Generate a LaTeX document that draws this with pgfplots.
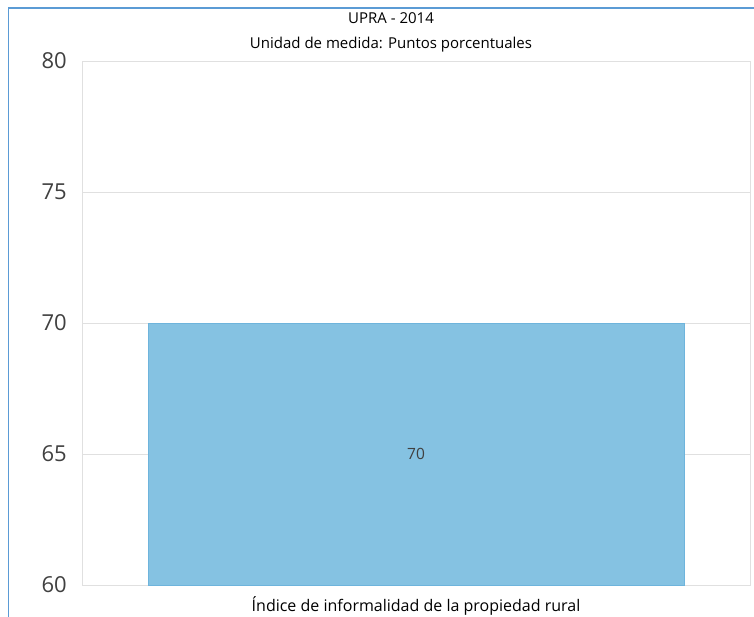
\documentclass[border=0pt]{standalone}
\usepackage{pgfplots}
\pgfplotsset{compat=1.18}
\usepackage{fontspec}
\setmainfont{Open Sans}
\definecolor{barfill}{RGB}{133,194,226}
\definecolor{barline}{RGB}{110,180,220}
\definecolor{frameblue}{RGB}{91,155,213}
\definecolor{gridc}{RGB}{224,224,224}
\definecolor{tickc}{RGB}{64,64,64}
\begin{document}
\begin{tikzpicture}[x=1pt,y=1pt]
\useasboundingbox (0,0) rectangle (754,616);
\begin{scope}
\clip (0,0) rectangle (754,616);
\draw[frameblue,line width=1.6pt] (8.5,-20) rectangle (770,608);
\end{scope}
\begin{axis}[
  at={(82pt,31pt)}, anchor=south west,
  scale only axis, width=668pt, height=524pt,
  ymin=60, ymax=80, ytick={60,65,70,75,80},
  xmin=-0.5, xmax=0.5, xtick={0}, xticklabels={Índice de informalidad de la propiedad rural},
  ymajorgrids, grid style={gridc, line width=0.8pt},
  axis line style={gridc, line width=0.8pt},
  major tick length=0pt,
  /pgf/number format/assume math mode=true,
  yticklabel style={font=\fontsize{22}{24}\selectfont, text=tickc, inner sep=0pt, xshift=-15pt},
  xticklabel style={font=\fontsize{16}{18}\selectfont, text=black, anchor=base, yshift=-26pt},
  ybar, bar width=536pt,
  clip=false,
]
\addplot[fill=barfill, draw=barline, line width=0.8pt] coordinates {(0,70)};
\node[font=\fontsize{15.5}{17}\selectfont, text=tickc] at (axis cs:0,65) {70};
\end{axis}
\node[anchor=base, font=\fontsize{15}{17}\selectfont] at (391,592) {UPRA - 2014};
\node[anchor=base, font=\fontsize{15}{17}\selectfont] at (391,567) {Unidad de medida: Puntos porcentuales};
\end{tikzpicture}
\end{document}
